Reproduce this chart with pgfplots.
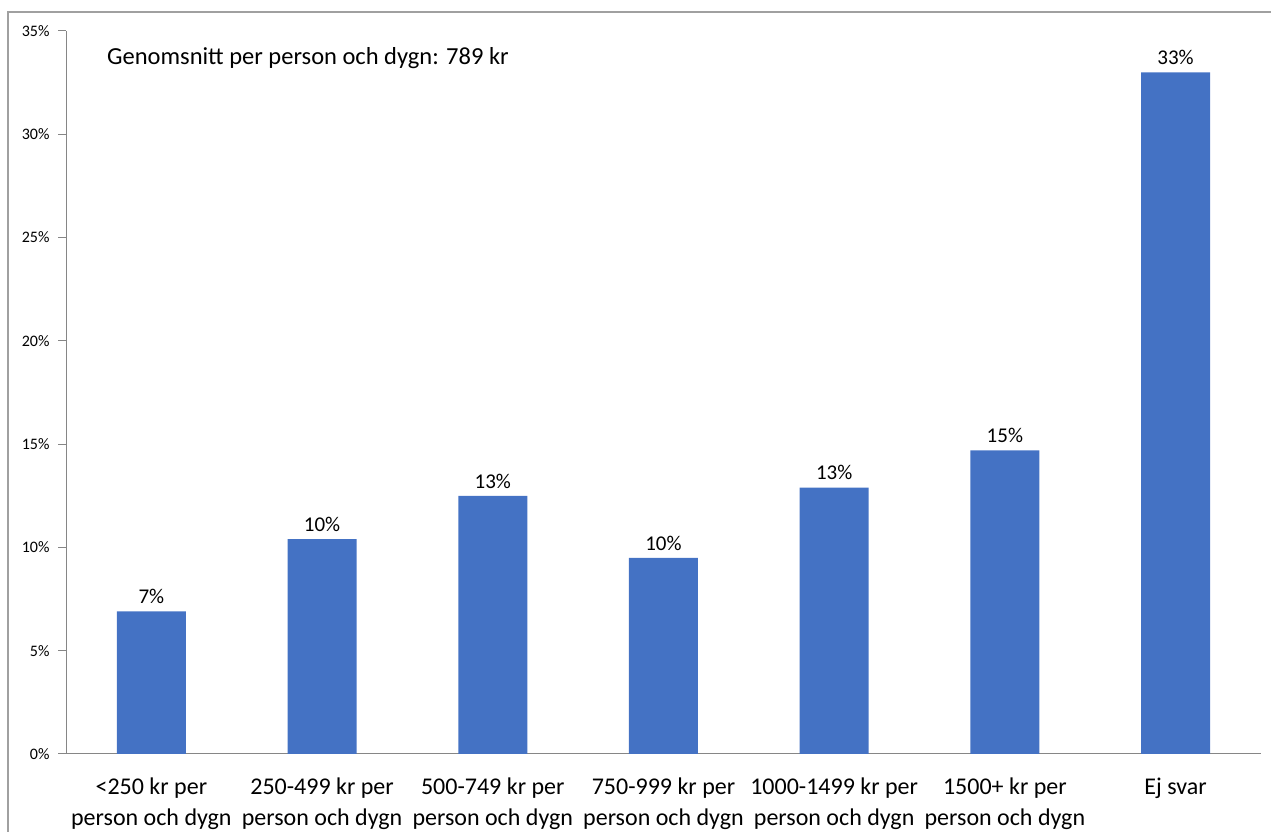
\documentclass[border=0pt]{standalone}
\usepackage{pgfplots}
\pgfplotsset{compat=1.18}
\usepackage{fontspec}
\setmainfont{Carlito}
\definecolor{barblue}{HTML}{4472C4}
\definecolor{axgray}{HTML}{868686}
\definecolor{framegray}{HTML}{A0A0A0}
\begin{document}
\begin{tikzpicture}[x=1pt,y=1pt]
\path[use as bounding box] (0,0) rectangle (1271,832);
\draw[framegray, line width=1.2pt] (8,0) -- (8,820) -- (1275,820);
\begin{axis}[
  at={(66pt,78pt)}, anchor=south west,
  scale only axis, width=1195pt, height=723pt,
  xmin=-0.5, xmax=6.5, ymin=0, ymax=35,
  axis x line=bottom, axis y line=left,
  axis line style={axgray, line width=1pt, -},
  ytick={0,5,...,35},
  yticklabel={\pgfmathprintnumber{\tick}\%},
  yticklabel style={font=\fontsize{16}{19}\selectfont, xshift=-5pt},
  /pgf/number format/assume math mode=true,
  xtick={0,...,6},
  xticklabels={{<250 kr per\\person och dygn},{250-499 kr per\\person och dygn},{500-749 kr per\\person och dygn},{750-999 kr per\\person och dygn},{1000-1499 kr per\\person och dygn},{1500+ kr per\\person och dygn},{Ej svar}},
  xticklabel style={font=\fontsize{24}{31}\selectfont, align=center, anchor=north, yshift=-12pt},
  x tick style={draw=none},
  minor xtick={-0.5,0.5,...,6.5},
  minor x tick style={axgray, line width=1pt},
  y tick style={axgray, line width=1pt},
  tick align=outside,
  major tick length=8pt, minor tick length=8pt,
  ybar, bar width=69pt,
  nodes near coords,
  point meta=explicit symbolic,
  nodes near coords style={font=\fontsize{21}{24}\selectfont, text=black, yshift=4pt},
  clip=false,
]
\addplot[fill=barblue, draw=none] table[meta=lab] {
x y lab
0 6.9 7\%
1 10.4 10\%
2 12.5 13\%
3 9.5 10\%
4 12.9 13\%
5 14.7 15\%
6 33.0 33\%
};
\node[anchor=base west, font=\fontsize{24.5}{29}\selectfont, inner sep=0pt] at (axis cs:-0.26,33.4) {Genomsnitt per person och dygn: 789 kr};
\end{axis}
\end{tikzpicture}
\end{document}
